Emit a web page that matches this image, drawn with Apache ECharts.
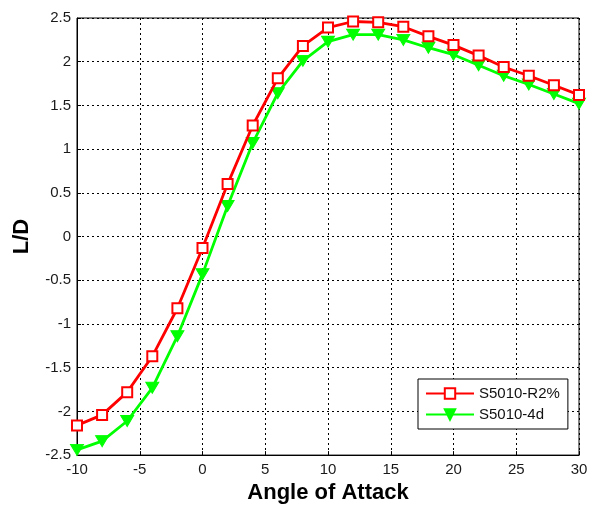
<!DOCTYPE html>
<html>
<head>
<meta charset="utf-8">
<script src="https://cdn.jsdelivr.net/npm/echarts@6/dist/echarts.min.js"></script>
<style>
  html, body { margin: 0; padding: 0; background: #fff; }
  #chart { width: 594px; height: 509px; }
</style>
</head>
<body>
<div id="chart"></div>
<script>
// angle of attack (deg)
const angles = [-10, -8, -6, -4, -2, 0, 2, 4, 6, 8, 10, 12, 14, 16, 18, 20, 22, 24, 26, 28, 30];
// L/D values
const ldR2 = [-2.16, -2.04, -1.78, -1.37, -0.82, -0.13, 0.60, 1.27, 1.81, 2.18, 2.39, 2.46, 2.45, 2.40, 2.29, 2.19, 2.07, 1.94, 1.84, 1.73, 1.62];
const ld4d = [-2.44, -2.34, -2.11, -1.73, -1.14, -0.43, 0.35, 1.07, 1.64, 2.01, 2.23, 2.31, 2.31, 2.25, 2.16, 2.08, 1.96, 1.84, 1.74, 1.63, 1.52];
const seriesNames = ['S5010-R2%', 'S5010-4d'];

const fontFam = '"Liberation Sans", Arial, sans-serif';

function pairs(xs, ys) {
  return xs.map((x, i) => [x, ys[i]]);
}

let myChart = echarts.init(document.getElementById('chart'));
myChart.setOption({
  animation: false,
  textStyle: { fontFamily: fontFam },
  grid: {
    left: 77,
    right: 15,
    top: 18,
    bottom: 51,
    show: true,
    borderColor: '#000',
    borderWidth: 1,
    backgroundColor: '#fff'
  },
  legend: {
    orient: 'vertical',
    left: 418,
    top: 379,
    padding: [7, 8, 7, 7],
    itemGap: 6,
    itemWidth: 48,
    itemHeight: 13,
    borderColor: '#000',
    borderWidth: 1,
    backgroundColor: '#fff',
    textStyle: { fontFamily: fontFam, fontSize: 15, color: '#111' },
    data: seriesNames
  },
  xAxis: {
    type: 'value',
    min: -10,
    max: 30,
    interval: 5,
    name: 'Angle of Attack',
    nameLocation: 'middle',
    nameGap: 26,
    nameTextStyle: { fontFamily: fontFam, fontSize: 22, fontWeight: 'bold', color: '#000' },
    axisLine: { onZero: false, lineStyle: { color: '#000', width: 1 } },
    axisTick: { inside: true, length: 4, lineStyle: { color: '#000' } },
    axisLabel: { margin: 7, fontSize: 15, color: '#1a1a1a' },
    splitLine: { show: true, lineStyle: { type: [2, 3], color: '#000', width: 1 } }
  },
  yAxis: {
    type: 'value',
    min: -2.5,
    max: 2.5,
    interval: 0.5,
    name: 'L/D',
    nameLocation: 'middle',
    nameGap: 44,
    nameTextStyle: { fontFamily: fontFam, fontSize: 22, fontWeight: 'bold', color: '#000' },
    axisLine: { onZero: false, lineStyle: { color: '#000', width: 1 } },
    axisTick: { inside: true, length: 4, lineStyle: { color: '#000' } },
    axisLabel: { margin: 6, fontSize: 15, color: '#1a1a1a' },
    splitLine: { show: true, lineStyle: { type: [2, 3], color: '#000', width: 1 } }
  },
  series: [
    {
      name: seriesNames[0],
      type: 'line',
      data: pairs(angles, ldR2),
      symbol: 'emptyRect',
      symbolSize: 10,
      color: '#ff0000',
      lineStyle: { color: '#ff0000', width: 2.8 },
      itemStyle: { color: '#ff0000', borderColor: '#ff0000', borderWidth: 2.5 },
      z: 3
    },
    {
      name: seriesNames[1],
      type: 'line',
      data: pairs(angles, ld4d),
      symbol: 'triangle',
      symbolRotate: 180,
      symbolSize: [13, 11],
      color: '#00ff00',
      lineStyle: { color: '#00ff00', width: 2.8 },
      itemStyle: { color: '#00ff00', borderColor: '#00ff00', borderWidth: 1 },
      z: 2
    }
  ]
});
</script>
</body>
</html>
